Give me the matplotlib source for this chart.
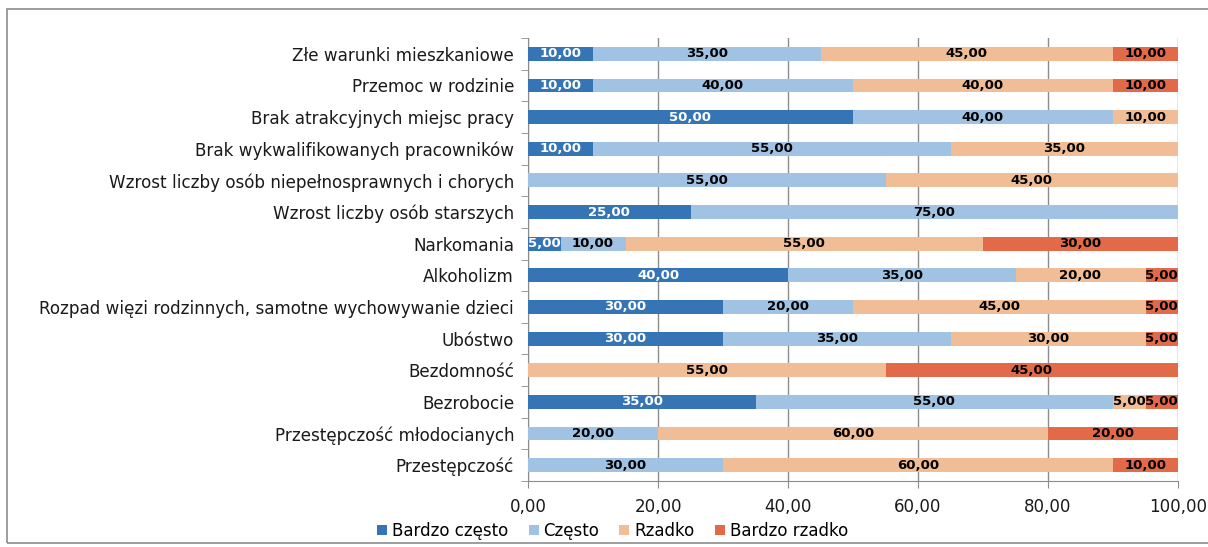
import numpy as np
import matplotlib.pyplot as plt
from matplotlib.patches import Rectangle
from matplotlib.ticker import FixedLocator

categories = [
    "Złe warunki mieszkaniowe",
    "Przemoc w rodzinie",
    "Brak atrakcyjnych miejsc pracy",
    "Brak wykwalifikowanych pracowników",
    "Wzrost liczby osób niepełnosprawnych i chorych",
    "Wzrost liczby osób starszych",
    "Narkomania",
    "Alkoholizm",
    "Rozpad więzi rodzinnych, samotne wychowywanie dzieci",
    "Ubóstwo",
    "Bezdomność",
    "Bezrobocie",
    "Przestępczość młodocianych",
    "Przestępczość",
]
series_names = ["Bardzo często", "Często", "Rzadko", "Bardzo rzadko"]
bardzo_czesto = [10, 10, 50, 10, 0, 25, 5, 40, 30, 30, 0, 35, 0, 0]
czesto = [35, 40, 40, 55, 55, 75, 10, 35, 20, 35, 0, 55, 20, 30]
rzadko = [45, 40, 10, 35, 45, 0, 55, 20, 45, 30, 55, 5, 60, 60]
bardzo_rzadko = [10, 10, 0, 0, 0, 0, 30, 5, 5, 5, 45, 5, 20, 10]
x_ticks = [0, 20, 40, 60, 80, 100]

colors = ["#3575b5", "#a0c3e3", "#f0bd96", "#e36a48"]
label_colors = ["white", "black", "black", "black"]

fig = plt.figure(figsize=(12.08, 5.47), dpi=100)
fig.patches.append(Rectangle((7 / 1208, 4 / 547), 1, 1 - 13 / 547, transform=fig.transFigure,
                             fill=False, edgecolor="#8c8c8c", linewidth=1.2))
ax = fig.add_axes([528 / 1208, 1 - 481 / 547, 650 / 1208, 443 / 547])

y = np.arange(len(categories))
left = np.zeros(len(categories))
for name, vals, c, lc in zip(series_names, [bardzo_czesto, czesto, rzadko, bardzo_rzadko],
                             colors, label_colors):
    vals = np.array(vals, dtype=float)
    ax.barh(y, vals, left=left, height=0.44, color=c, label=name, zorder=3)
    for yi, (l, v) in enumerate(zip(left, vals)):
        if v > 0:
            ax.text(l + v / 2, yi, f"{v:.2f}".replace(".", ","), ha="center", va="center",
                    color=lc, fontsize=9.5, fontweight="bold", zorder=4)
    left += vals

ax.set_xlim(0, 100)
ax.set_ylim(len(categories) - 0.5, -0.5)
ax.set_yticks(y)
ax.set_yticklabels(categories, fontsize=12.1, color="#1a1a1a")
ax.yaxis.set_minor_locator(FixedLocator(np.arange(-0.5, len(categories), 1)))
ax.tick_params(axis="y", which="major", length=0, pad=10)
ax.tick_params(axis="y", which="minor", length=5, color="#8c8c8c")
ax.set_xticks(x_ticks)
ax.set_xticklabels([f"{t:.2f}".replace(".", ",") for t in x_ticks], fontsize=12, color="#1a1a1a")
ax.tick_params(axis="x", length=5, color="#8c8c8c", direction="out", pad=7)
ax.grid(axis="x", color="#8c8c8c", linewidth=1, zorder=0)
for s in ["top", "right"]:
    ax.spines[s].set_visible(False)
for s in ["left", "bottom"]:
    ax.spines[s].set_color("#8c8c8c")

ax.legend(loc="upper left", bbox_to_anchor=(-0.255, -0.058), ncol=4, frameon=False,
          fontsize=12, handlelength=0.6, handleheight=0.6, handletextpad=0.3, columnspacing=1.2)

fig.savefig("out.png", dpi=100)
